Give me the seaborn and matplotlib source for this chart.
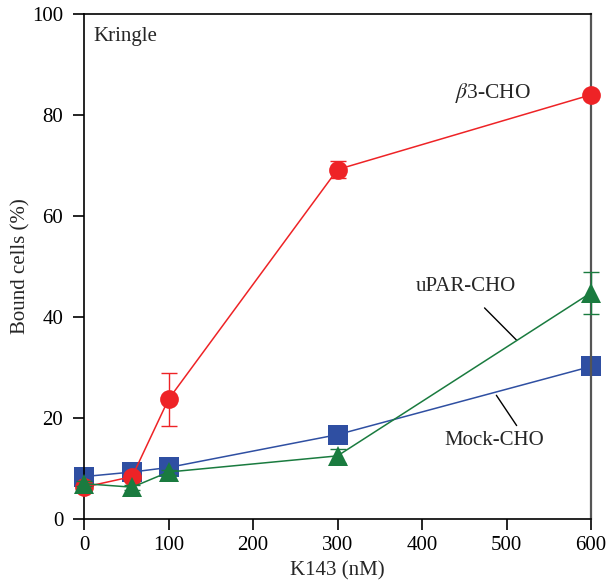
import matplotlib
matplotlib.use("Agg")
import matplotlib.pyplot as plt
import seaborn as sns
import pandas as pd

conc = [0, 57, 100, 300, 600]
beta3 = [6.3, 8.4, 23.7, 69.2, 84.0]
beta3_err = [0.5, 0.8, 5.3, 1.6, 0.5]
upar = [7.0, 6.3, 9.3, 12.5, 44.8]
upar_err = [0.5, 0.5, 0.5, 1.4, 4.2]
mock = [8.4, 9.3, 10.2, 16.7, 30.2]
mock_err = [0.6, 0.4, 0.4, 0.4, 0.4]

xticks = [0, 100, 200, 300, 400, 500, 600]
yticks = [0, 20, 40, 60, 80, 100]

RED = "#EE2326"
BLUE = "#2F4FA2"
GREEN = "#1A7B3F"

sns.set_theme(style="ticks")
plt.rcParams["font.family"] = ["Liberation Serif", "DejaVu Serif"]
plt.rcParams["mathtext.fontset"] = "stix"

FS = 15

fig = plt.figure(figsize=(6.08, 5.83), dpi=100)
ax = fig.add_axes([84/608, 1-519/583, (591-84)/608, (519-14)/583])

series = [
    ("Mock-CHO", mock, mock_err, BLUE, "s", 14, 2),
    ("β3-CHO", beta3, beta3_err, RED, "o", 13.5, 3),
    ("uPAR-CHO", upar, upar_err, GREEN, "^", 15, 4),
]
for name, vals, errs, col, mk, ms, z in series:
    df = pd.DataFrame({"x": conc, "y": vals})
    ax.errorbar(conc, vals, yerr=errs, fmt="none", ecolor=col, elinewidth=1.0,
                capsize=6, capthick=1.0, zorder=z, clip_on=False)
    sns.lineplot(data=df, x="x", y="y", ax=ax, color=col, marker=mk,
                 markersize=ms, markeredgewidth=0, linewidth=1.1,
                 zorder=z, clip_on=False, legend=False)

ax.set_xlim(0, 600)
ax.set_ylim(0, 100)
ax.set_xticks(xticks)
ax.set_yticks(yticks)
ax.tick_params(axis="both", direction="out", length=8, width=1.2, labelsize=FS,
               colors="black")
ax.tick_params(axis="x", pad=4)
ax.tick_params(axis="y", pad=7)
ax.set_xlabel("K143 (nM)", fontsize=FS, labelpad=5)
ax.set_ylabel("Bound cells (%)", fontsize=FS, labelpad=1)
for s in ["left", "bottom", "top"]:
    ax.spines[s].set_color("black")
    ax.spines[s].set_linewidth(1.2)
ax.spines["right"].set_color("#555555")
ax.spines["right"].set_linewidth(1.6)

ax.text(10.6, 95.6, "Kringle", fontsize=FS, va="center", ha="left")
ax.text(439, 84.3, r"$\beta$3-CHO", fontsize=FS + 0.5, va="center", ha="left")
ax.text(392, 46, "uPAR-CHO", fontsize=FS, va="center", ha="left")
ax.text(427, 15.6, "Mock-CHO", fontsize=FS, va="center", ha="left")
ax.plot([474, 512], [41.8, 35.4], color="black", lw=1.0)
ax.plot([488, 512], [24.5, 18.5], color="black", lw=1.0)

fig.savefig("out.png", dpi=100)
